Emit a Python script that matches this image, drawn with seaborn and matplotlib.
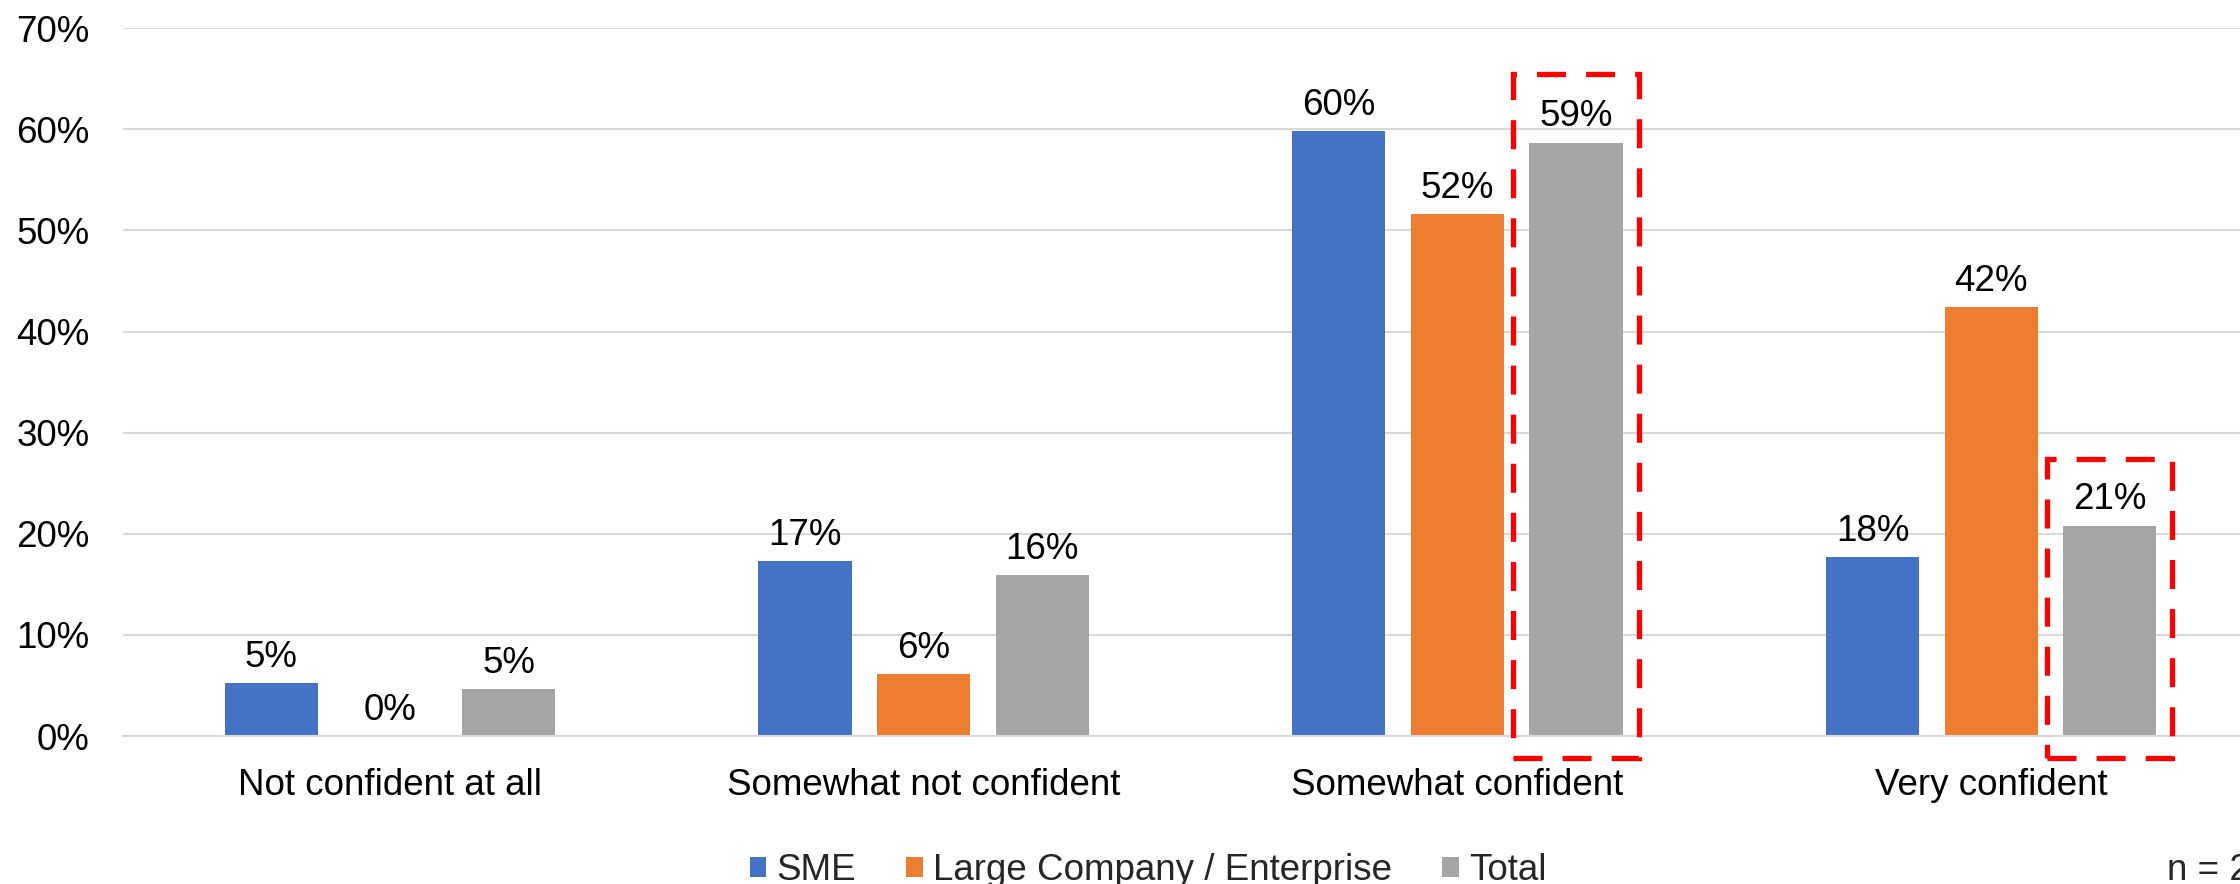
import matplotlib
matplotlib.use("Agg")
import matplotlib.pyplot as plt
import matplotlib.patches as mpatches
import seaborn as sns
import pandas as pd

# Survey responses: confidence level by company size (percent of respondents)
categories = ["Not confident at all", "Somewhat not confident", "Somewhat confident", "Very confident"]
series_names = ["SME", "Large Company / Enterprise", "Total"]
sme = [5.2, 17.3, 59.8, 17.7]
large = [0.0, 6.1, 51.6, 42.4]
total = [4.6, 15.9, 58.7, 20.8]
y_ticks = [0, 10, 20, 30, 40, 50, 60, 70]
sample_note = "n = 2"

colors = ["#4472C4", "#ED7D31", "#A5A5A5"]

df = pd.DataFrame({
    "category": categories * 3,
    "series": [s for s in series_names for _ in categories],
    "value": sme + large + total,
})

sns.set_theme(style="white")
plt.rcParams["font.family"] = ["Liberation Sans", "DejaVu Sans"]

fig = plt.figure(figsize=(22.4, 8.84), dpi=100)
ax = fig.add_axes([123 / 2240, 148 / 884, (2258 - 123) / 2240, (736 - 28.3) / 884])

sns.barplot(data=df, x="category", y="value", hue="series", order=categories,
            hue_order=series_names, palette=colors, width=0.667, gap=0.215,
            linewidth=0, saturation=1, ax=ax, legend=True, errorbar=None)

FS = 26.5
for cont in ax.containers:
    ax.bar_label(cont, labels=[f"{v:.0f}%" for v in cont.datavalues],
                 padding=6, fontsize=FS, color="black")

ax.set_ylim(0, 70)
ax.set_xlim(-0.5, 3.5)
ax.set_yticks(y_ticks)
ax.set_yticklabels([f"{t}%" for t in y_ticks])
ax.set_xlabel("")
ax.set_ylabel("")
ax.tick_params(axis="y", length=0, pad=24, labelsize=FS, labelcolor="black")
ax.tick_params(axis="x", length=0, pad=23, labelsize=FS, labelcolor="black")
ax.yaxis.grid(True, color="#d9d9d9", linewidth=1.5)
ax.set_axisbelow(True)
for side in ["top", "right", "left"]:
    ax.spines[side].set_visible(False)
ax.spines["bottom"].set_color("#d9d9d9")
ax.spines["bottom"].set_linewidth(1.5)

# Dashed highlight boxes around the "Total" bars of the confident groups
total_bars = ax.containers[2]
highlights = [(2, 65.5), (3, 27.4)]
for idx, top in highlights:
    bar = total_bars[idx]
    pad = 0.03
    x0 = bar.get_x() - pad
    w = bar.get_width() + 2 * pad
    rect = mpatches.Rectangle((x0, -2.2), w, top + 2.2, fill=False,
                              edgecolor="#FF0000", linewidth=3.8,
                              linestyle=(0, (5.5, 3.8)), clip_on=False, zorder=5)
    ax.add_patch(rect)

handles, labels = ax.get_legend_handles_labels()
ax.get_legend().remove()
fig.legend(handles, labels, loc="center", bbox_to_anchor=(0.5125, 0.015), ncol=3,
           frameon=False, fontsize=FS, handlelength=0.45, handleheight=0.45,
           handletextpad=0.27, columnspacing=1.37)

fig.text(2167 / 2240, 0.015, sample_note, fontsize=FS, va="center", ha="left")

fig.savefig("out.png", dpi=100, facecolor="white")
